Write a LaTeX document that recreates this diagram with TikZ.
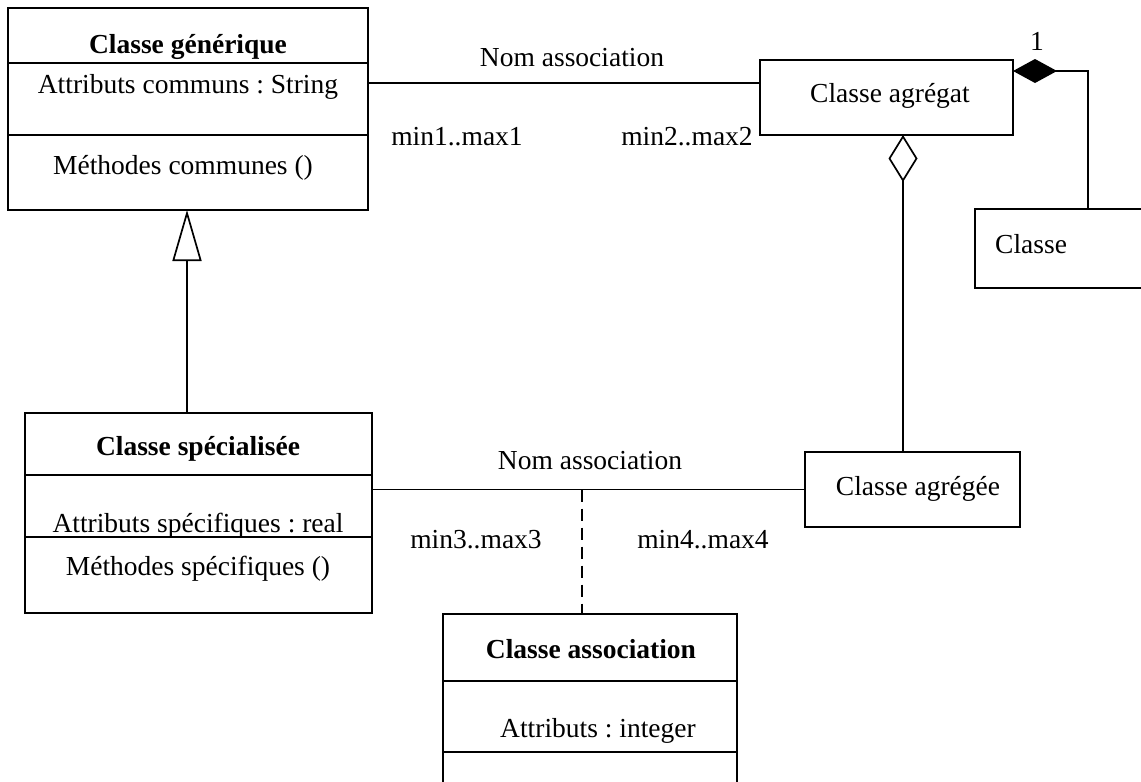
\documentclass[tikz,border=0pt]{standalone}
\usepackage{fontspec}
\setmainfont{Liberation Serif}
\usetikzlibrary{arrows.meta,calc}
\frenchspacing
\begin{document}
\begin{tikzpicture}[x=1pt,y=-1pt,
  umlbox/.style={draw, rectangle, fill=white, inner sep=0pt, outer sep=0pt, line width=1.7pt},
  txt/.style={inner sep=0pt, anchor=base, font=\fontsize{27.5}{33}\selectfont},
  boldtxt/.style={txt, font=\fontsize{27.5}{33}\selectfont\bfseries},
  link/.style={line width=1.7pt},
  assocdash/.style={link, dash pattern=on 12pt off 7pt},
  inherit/.style={link, {Triangle[open, length=51pt, width=29pt, line width=1.7pt]}-},
  aggreg/.style={link, {Diamond[open, length=47pt, width=29pt, line width=1.7pt]}-},
  compos/.style={link, {Diamond[length=44pt, width=24pt]}-}]
\useasboundingbox[fill=white] (0,0) rectangle (1141,782);
\clip (0,0) rectangle (1141,782);

% generic class
\node[umlbox, minimum width=360pt, minimum height=202pt] (gen) at (188,109) {};
\draw[link] ([yshift=-55pt]gen.north west) -- ([yshift=-55pt]gen.north east);
\draw[link] ([yshift=-127pt]gen.north west) -- ([yshift=-127pt]gen.north east);
\node[boldtxt] (genT) at (188,53) {Classe générique};
\node[txt] (genA) at (188,93) {Attributs communs : String};
\node[txt] (genM) at (183,174) {Méthodes communes ()};

% specialised class
\node[umlbox, minimum width=347pt, minimum height=200pt] (spec) at (198.5,513) {};
\draw[link] ([yshift=-62pt]spec.north west) -- ([yshift=-62pt]spec.north east);
\draw[link] ([yshift=-124pt]spec.north west) -- ([yshift=-124pt]spec.north east);
\node[boldtxt] (specT) at (198,455) {Classe spécialisée};
\node[txt] (specA) at (198,532) {Attributs spécifiques : real};
\node[txt] (specM) at (198,575) {Méthodes spécifiques ()};

% aggregate and aggregated classes
\node[umlbox, minimum width=253pt, minimum height=75pt] (agr) at (886.5,97.5) {};
\node[txt] (agrT) at (890,102) {Classe agrégat};
\node[umlbox, minimum width=215pt, minimum height=75pt] (agg) at (912.5,489.5) {};
\node[txt] (aggT) at (918,495) {Classe agrégée};

% composed class
\node[umlbox, minimum width=185pt, minimum height=79pt] (cls) at (1067.5,248.5) {};
\node[txt, anchor=base west] (clsT) at (995,253) {Classe};

% association class
\node[umlbox, minimum width=294pt, minimum height=186pt] (asc) at (590,707) {};
\draw[link] ([yshift=-67pt]asc.north west) -- ([yshift=-67pt]asc.north east);
\draw[link] ([yshift=-138pt]asc.north west) -- ([yshift=-138pt]asc.north east);
\node[boldtxt] (ascT) at (591,658) {Classe association};
\node[txt] (ascA) at (598,737) {Attributs : integer};

% associations
\draw[link] ([yshift=-75pt]gen.north east) -- ([yshift=-75pt]gen.north east -| agr.west);
\node[txt] (n1) at (572,66) {Nom association};
\node[txt] (m1) at (457,145) {min1..max1};
\node[txt] (m2) at (687,145) {min2..max2};

\draw[link] (spec.east |- agg.west) -- (agg.west);
\node[txt] (n2) at (590,469) {Nom association};
\node[txt] (m3) at (476,548) {min3..max3};
\node[txt] (m4) at (703,548) {min4..max4};
\coordinate (mid) at (582,489.5);
\draw[assocdash] (mid) -- (mid |- asc.north);

% generalisation
\draw[inherit] ([xshift=-1pt]gen.south) -- ([xshift=-1pt]gen.south |- spec.north);

% aggregation
\draw[aggreg] ([xshift=16.5pt]agr.south) -- ([xshift=16.5pt]agr.south |- agg.north);

% composition
\draw[compos] ([yshift=-11pt]agr.north east) -| ([xshift=113pt]cls.north west);
\node[txt] (one) at (1037,50) {1};
\end{tikzpicture}
\end{document}
